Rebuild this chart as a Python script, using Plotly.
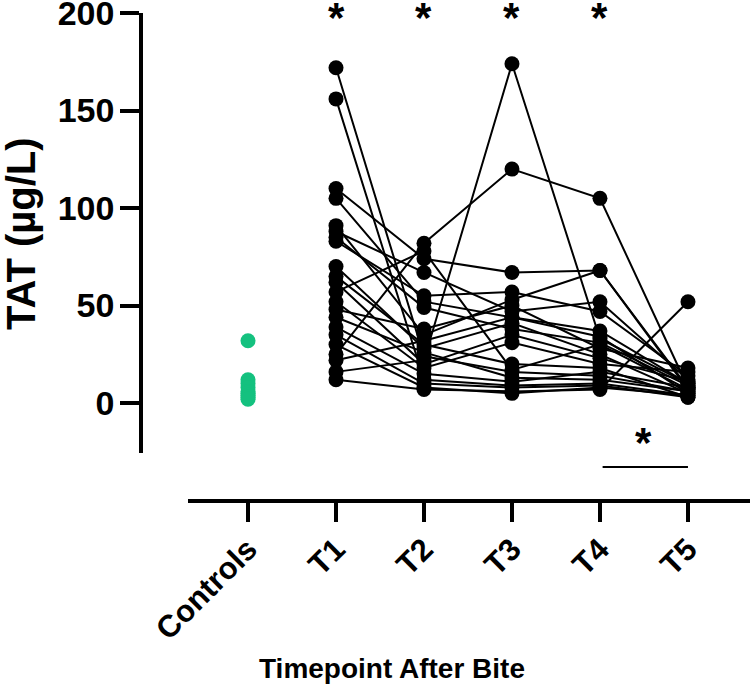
import plotly.graph_objects as go

categories = ["Controls", "T1", "T2", "T3", "T4", "T5"]
timepoints = ["T1", "T2", "T3", "T4", "T5"]

controls = [32, 12, 10, 8, 6, 5, 4, 3, 2]

# each row: one subject, values at T1..T5 (ug/L)
subjects = [
    [172, 24, 16, 14, 6],
    [156, 12, 9, 10, 4],
    [110, 74, 67, 68, 8],
    [105, 52, 44, 37, 10],
    [91, 35, 53, 68, 7],
    [88, 67, 47, 52, 12],
    [85, 49, 38, 31, 9],
    [83, 55, 57, 47, 14],
    [70, 28, 41, 25, 5],
    [65, 30, 20, 18, 3],
    [62, 20, 35, 23, 11],
    [52, 18, 31, 20, 16],
    [48, 38, 50, 28, 18],
    [44, 26, 13, 12, 6],
    [39, 15, 11, 16, 8],
    [35, 10, 8, 9, 3],
    [25, 82, 120, 105, 8],
    [22, 32, 44, 34, 5],
    [16, 22, 174, 33, 10],
    [12, 7, 6, 7, 52],
    [30, 8, 5, 8, 4],
    [57, 78, 17, 30, 7],
]

y_ticks = [0, 50, 100, 150, 200]
star_groups = ["T1", "T2", "T3", "T4"]
bracket = ("T4", "T5")

xpos = {c: i for i, c in enumerate(categories)}

FONT = "Liberation Sans, Arial, sans-serif"
GREEN = "#14C17F"

W, H = 750, 691
L = 141          # y-axis line (px)
T = 13           # top of y axis (value 200)
XLINE = 501      # x-axis line
B = H - XLINE
pw, ph = W - L, H - T - B

fig = go.Figure()

for s in subjects:
    fig.add_trace(go.Scatter(
        x=[xpos[t] for t in timepoints], y=s, mode="lines+markers",
        line=dict(color="black", width=2),
        marker=dict(color="black", size=15),
        showlegend=False, hoverinfo="skip", cliponaxis=False))

fig.add_trace(go.Scatter(
    x=[xpos["Controls"]] * len(controls), y=controls, mode="markers",
    marker=dict(color=GREEN, size=15), showlegend=False, cliponaxis=False))

fig.update_layout(
    width=W, height=H,
    margin=dict(l=L, r=0, t=T, b=B, pad=0, autoexpand=False),
    plot_bgcolor="white", paper_bgcolor="white",
    xaxis=dict(
        domain=[(188 - L) / pw, 1], range=[-0.682, 5.705],
        anchor="free", position=0, automargin=False,
        tickmode="array", tickvals=list(range(len(categories))), ticktext=categories,
        tickangle=-45, showline=True, linecolor="black", linewidth=3.5,
        ticks="outside", ticklen=19, tickwidth=3.5, tickcolor="black",
        showgrid=False, zeroline=False,
        tickfont=dict(family=FONT, size=31, color="black", weight="bold"),
        ticklabelstandoff=-3,
    ),
    yaxis=dict(
        domain=[(XLINE - 453) / ph, 1], range=[-25.6, 200.05],
        anchor="free", position=0, automargin=False,
        tickmode="array", tickvals=y_ticks,
        showline=True, linecolor="black", linewidth=3.5,
        ticks="outside", ticklen=19, tickwidth=3.5, tickcolor="black",
        showgrid=False, zeroline=False,
        tickfont=dict(family=FONT, size=34, color="black", weight="bold"),
        ticklabelstandoff=-1, ticklabeloverflow="allow",
    ),
)

def px_to_paper_x(px):
    return (px - L) / pw

def py_to_paper_y(py):
    return (XLINE - py) / ph

annotations = []
for g in star_groups:
    annotations.append(dict(
        x=xpos[g], xref="x", y=py_to_paper_y(17), yref="paper",
        text="*", showarrow=False, xanchor="center", yanchor="middle",
        font=dict(family=FONT, size=42, color="black", weight="bold")))

annotations.append(dict(
    x=(xpos[bracket[0]] + xpos[bracket[1]]) / 2, xref="x",
    y=py_to_paper_y(442), yref="paper",
    text="*", showarrow=False, xanchor="center", yanchor="middle",
    font=dict(family=FONT, size=42, color="black", weight="bold")))

annotations.append(dict(
    x=px_to_paper_x(21), xref="paper", y=py_to_paper_y(234), yref="paper",
    text="TAT (µg/L)", textangle=-90, showarrow=False,
    xanchor="center", yanchor="middle",
    font=dict(family=FONT, size=40, color="black", weight="bold")))

annotations.append(dict(
    x=px_to_paper_x(392), xref="paper", y=py_to_paper_y(668), yref="paper",
    text="Timepoint After Bite", showarrow=False,
    xanchor="center", yanchor="middle",
    font=dict(family=FONT, size=28, color="black", weight="bold")))

fig.update_layout(annotations=annotations)

fig.add_shape(type="line", xref="x", yref="paper",
              x0=xpos[bracket[0]] + 0.03, x1=xpos[bracket[1]],
              y0=py_to_paper_y(467), y1=py_to_paper_y(467),
              line=dict(color="black", width=2))

fig.write_html(
    "out.html",
    config={"displayModeBar": False},
    post_script="document.body.style.margin='0';document.body.style.padding='0';"
                "document.body.style.overflow='hidden';",
)
